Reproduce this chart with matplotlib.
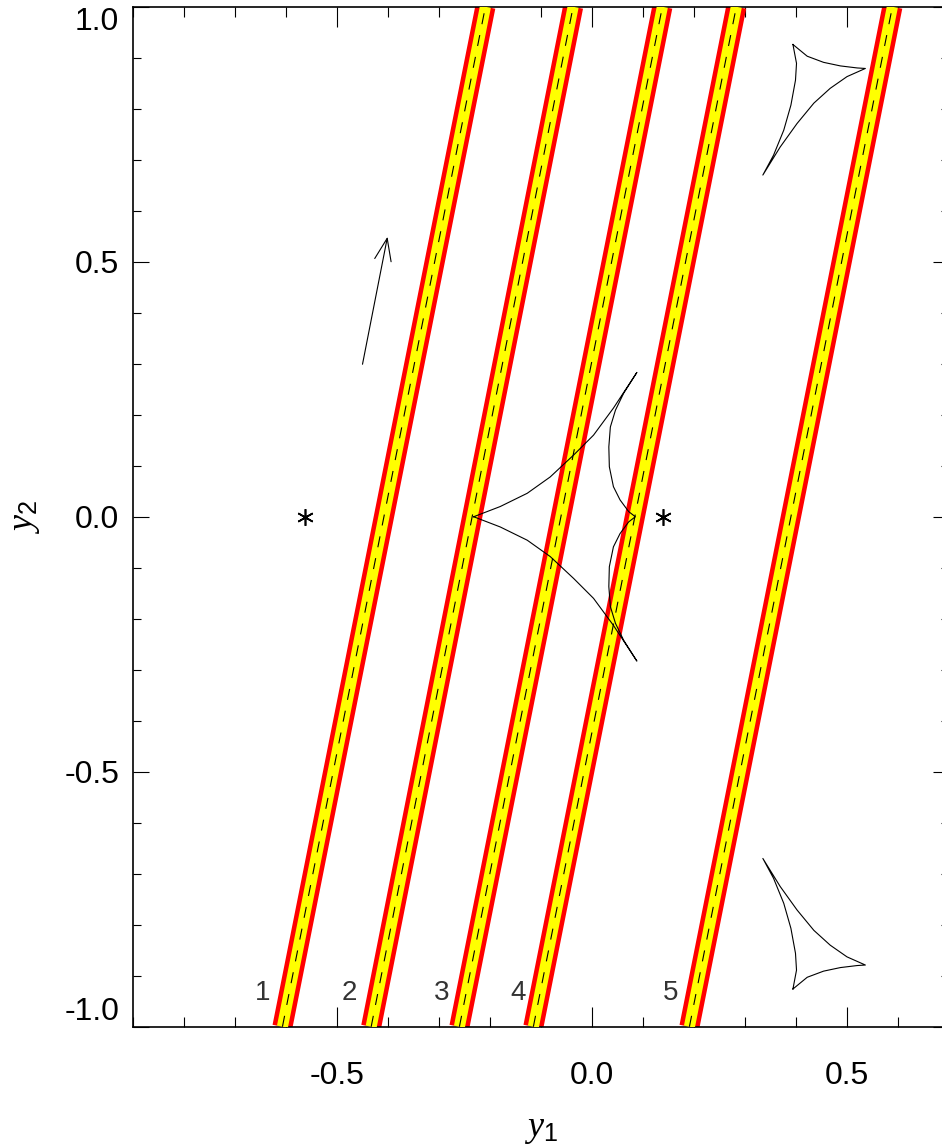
import numpy as np
import matplotlib
matplotlib.use("Agg")
import matplotlib.pyplot as plt
from matplotlib.ticker import MultipleLocator, FormatStrFormatter

plt.rcParams['font.family'] = ['Liberation Sans', 'DejaVu Sans']
plt.rcParams['axes.unicode_minus'] = False
plt.rcParams['mathtext.fontset'] = 'custom'
plt.rcParams['mathtext.it'] = 'Liberation Serif:italic'
plt.rcParams['mathtext.rm'] = 'Liberation Sans'

# source trajectories: y1 where each crosses y2 = -1 and y2 = +1
traj_labels = ['1', '2', '3', '4', '5']
traj_y1_bottom = [-0.607, -0.433, -0.260, -0.115, 0.191]
traj_y1_top = [-0.209, -0.037, 0.138, 0.283, 0.589]
label_y1 = [-0.646, -0.475, -0.295, -0.145, 0.155]
label_y2 = -0.933

# lens positions
lens_y1 = [-0.562, 0.139]
lens_y2 = [0.0, 0.0]

# central caustic (closed)
central_y1 = [-0.232, -0.180, -0.127, -0.082, -0.036, 0.003, 0.042, 0.088,
              0.062, 0.046, 0.036, 0.033, 0.034, 0.042, 0.055, 0.072, 0.085,
              0.072, 0.055, 0.042, 0.034, 0.033, 0.036, 0.046, 0.062, 0.088,
              0.042, 0.003, -0.036, -0.082, -0.127, -0.180, -0.232]
central_y2 = [0.0, 0.020, 0.046, 0.078, 0.121, 0.160, 0.213, 0.283,
              0.242, 0.209, 0.176, 0.137, 0.098, 0.059, 0.033, 0.010, 0.0,
              -0.010, -0.033, -0.059, -0.098, -0.137, -0.176, -0.209, -0.242, -0.283,
              -0.213, -0.160, -0.121, -0.078, -0.046, -0.020, 0.0]

# planetary caustics (closed)
upper_y1 = [0.394, 0.422, 0.454, 0.487, 0.520, 0.536, 0.500, 0.467, 0.435,
            0.402, 0.369, 0.335, 0.356, 0.376, 0.390, 0.399, 0.401, 0.394]
upper_y2 = [0.926, 0.903, 0.891, 0.884, 0.880, 0.879, 0.863, 0.840, 0.811,
            0.771, 0.725, 0.670, 0.709, 0.758, 0.807, 0.856, 0.889, 0.926]
lower_y1 = [0.394, 0.422, 0.454, 0.487, 0.520, 0.536, 0.500, 0.467, 0.435,
            0.402, 0.369, 0.335, 0.356, 0.376, 0.390, 0.399, 0.401, 0.394]
lower_y2 = [-0.926, -0.903, -0.891, -0.884, -0.880, -0.879, -0.863, -0.840, -0.811,
            -0.771, -0.725, -0.670, -0.709, -0.758, -0.807, -0.856, -0.889, -0.926]

# direction arrow
arrow_tail = (-0.450, 0.299)
arrow_head = (-0.401, 0.549)

fig = plt.figure(figsize=(9.42, 11.44), dpi=100)
ax = fig.add_axes([133 / 942, 0.1025, 816 / 942, 0.8916])
ax.set_xlim(-0.9, 0.7)
ax.set_ylim(-1.0, 1.0)

for xb, xt in zip(traj_y1_bottom, traj_y1_top):
    ax.axline((xb, -1.0), (xt, 1.0), color='red', lw=14.5, solid_capstyle='butt', zorder=2)
    ax.axline((xb, -1.0), (xt, 1.0), color='yellow', lw=8, solid_capstyle='butt', zorder=3)
    ax.axline((xb, -1.0), (xt, 1.0), color='black', lw=0.8, ls=(0, (10, 10)), zorder=4)

for lab, lx in zip(traj_labels, label_y1):
    ax.text(lx, label_y2, lab, fontsize=20, color='#333333', ha='center', va='center')

ax.plot(central_y1, central_y2, color='black', lw=0.8, zorder=5)
ax.plot(upper_y1, upper_y2, color='black', lw=0.8, zorder=5)
ax.plot(lower_y1, lower_y2, color='black', lw=0.8, zorder=5)

ax.plot(lens_y1, lens_y2, ls='none', marker=(6, 2, 0), ms=12, mew=1.2, color='black', zorder=6)

ax.annotate('', xy=arrow_head, xytext=arrow_tail,
            arrowprops=dict(arrowstyle='->,head_length=1.6,head_width=0.6', lw=0.8,
                            color='black', shrinkA=0, shrinkB=0, mutation_scale=10))

ax.xaxis.set_major_locator(MultipleLocator(0.5))
ax.xaxis.set_minor_locator(MultipleLocator(0.1))
ax.yaxis.set_major_locator(MultipleLocator(0.5))
ax.yaxis.set_minor_locator(MultipleLocator(0.1))
ax.xaxis.set_major_formatter(FormatStrFormatter('%.1f'))
ax.yaxis.set_major_formatter(FormatStrFormatter('%.1f'))
ax.tick_params(which='both', direction='in', top=True, right=True, width=0.8, labelsize=23)
ax.tick_params(axis='x', which='major', length=14.4, pad=25)
ax.tick_params(axis='x', which='minor', length=7.2)
ax.tick_params(axis='y', which='major', length=11.5, pad=10)
ax.tick_params(axis='y', which='minor', length=5.8)
for sp in ax.spines.values():
    sp.set_linewidth(1.2)

fig.canvas.draw()
ylabs = ax.get_yticklabels()
for t in ylabs:
    if t.get_text() == '1.0':
        t.set_va('top')
    if t.get_text() == '-1.0':
        t.set_va('bottom')

ax.set_xlabel(r'$y_1$', fontsize=26, labelpad=14)
ax.set_ylabel(r'$y_2$', fontsize=26, labelpad=16)

fig.savefig('out.png', dpi=100)
